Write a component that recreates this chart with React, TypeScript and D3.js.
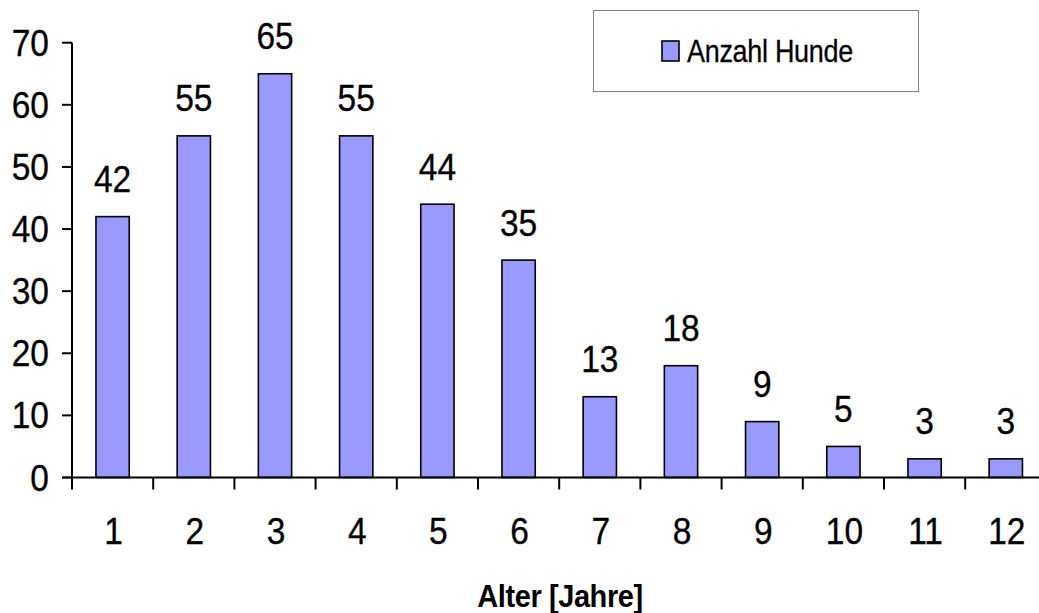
import React from "react";
import * as d3 from "d3";

const categories = ["1", "2", "3", "4", "5", "6", "7", "8", "9", "10", "11", "12"];
const values = [42, 55, 65, 55, 44, 35, 13, 18, 9, 5, 3, 3];
const yTicks = [0, 10, 20, 30, 40, 50, 60, 70];
const seriesName = "Anzahl Hunde";
const xTitle = "Alter [Jahre]";

const W = 1039;
const H = 613;
const x0 = 72;
const band = 81.2;
const yBase = 477.5;
const yTop = 42.7;
const font = "Arial, 'Liberation Sans', sans-serif";
const barColor = "#9999FF";

export default function App() {
  const x = d3
    .scaleBand<string>()
    .domain(categories)
    .range([x0, x0 + band * categories.length])
    .paddingInner(0)
    .paddingOuter(0);
  const y = d3.scaleLinear().domain([0, 70]).range([yBase, yTop]);
  const bw = band * 0.41;
  const boundaries = d3.range(categories.length + 1).map((i) => x0 + i * band);

  return (
    <div style={{ position: "absolute", left: 0, top: 0, width: W, height: H, background: "#fff" }}>
      <svg width={W} height={H} style={{ display: "block" }} fontFamily={font}>
        <rect x={0} y={0} width={W} height={H} fill="#fff" />
        {/* bars */}
        {values.map((v, i) => {
          const cx = (x(categories[i]) as number) + x.bandwidth() / 2;
          return (
            <rect
              key={i}
              x={cx - bw / 2}
              y={y(v)}
              width={bw}
              height={y(0) - y(v)}
              fill={barColor}
              stroke="#000"
              strokeWidth={1.6}
            />
          );
        })}
        {/* data labels */}
        {values.map((v, i) => {
          const cx = (x(categories[i]) as number) + x.bandwidth() / 2;
          return (
            <text
              key={i}
              transform={`translate(${cx},${y(v) - 24.5}) scale(1,1.1)`}
              textAnchor="middle"
              fontSize={33.5}
              fill="#000"
              stroke="#000"
              strokeWidth={0.3}
            >
              {v}
            </text>
          );
        })}
        {/* y axis */}
        <line x1={x0} x2={x0} y1={yTop} y2={yBase} stroke="#000" strokeWidth={2} />
        {yTicks.map((t) => (
          <g key={t}>
            <line x1={x0 - 10} x2={x0} y1={y(t)} y2={y(t)} stroke="#000" strokeWidth={2} />
            <text
              transform={`translate(${49},${y(t) + 13}) scale(1,1.1)`}
              textAnchor="end"
              fontSize={33.5}
              fill="#000"
              stroke="#000"
              strokeWidth={0.3}
            >
              {t}
            </text>
          </g>
        ))}
        {/* x axis */}
        <line x1={x0 - 10} x2={W + 20} y1={yBase} y2={yBase} stroke="#000" strokeWidth={2} />
        {boundaries.map((b, i) => (
          <line key={i} x1={b} x2={b} y1={yBase} y2={yBase + 12} stroke="#000" strokeWidth={2} />
        ))}
        {categories.map((c) => {
          const cx = (x(c) as number) + x.bandwidth() / 2;
          return (
            <text
              key={c}
              transform={`translate(${cx + 1},${544}) scale(1,1.1)`}
              textAnchor="middle"
              fontSize={33.5}
              fill="#000"
              stroke="#000"
              strokeWidth={0.3}
            >
              {c}
            </text>
          );
        })}
        {/* x title */}
        <text
          transform={`translate(${560},${606.5}) scale(1,1.05)`}
          textAnchor="middle"
          fontSize={29}
          fontWeight="bold"
          fill="#000"
          letterSpacing={-0.4}
        >
          {xTitle}
        </text>
        {/* legend */}
        <rect x={593.5} y={10.5} width={325} height={81} fill="#fff" stroke="#808080" strokeWidth={1} />
        <rect x={662} y={41} width={17} height={20} fill={barColor} stroke="#000" strokeWidth={1.6} />
        <text
          transform={`translate(${687},${62}) scale(1,1.18)`}
          fontSize={27}
          fill="#000"
          letterSpacing={-0.3}
          stroke="#000"
          strokeWidth={0.25}
        >
          {seriesName}
        </text>
      </svg>
    </div>
  );
}
